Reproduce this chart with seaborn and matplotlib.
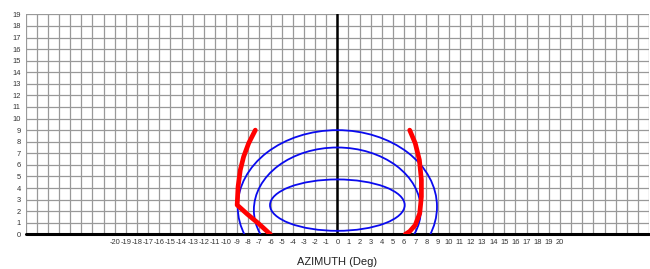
import matplotlib
matplotlib.use("Agg")
import matplotlib.pyplot as plt
from matplotlib.patches import Ellipse
import seaborn as sns
import pandas as pd

# axis ranges
x_min, x_max = -28, 28
y_min, y_max = 0, 19
x_labels_shown = list(range(-20, 21))

# blue contours (center x, center y, half width, half height)
ell_cx = [0.0, 0.0, 0.0]
ell_cy = [2.52, 2.1, 2.38]
ell_hw = [6.05, 7.5, 8.95]
ell_hh = [2.22, 5.4, 6.62]

# red boundary curves
left_x = [-7.37, -7.97, -8.42, -8.72, -8.92, -9.0, -8.1, -7.1, -6.02]
left_y = [9.0, 7.86, 6.7, 5.55, 4.1, 2.53, 1.75, 0.95, 0.0]
right_x = [6.5, 7.0, 7.37, 7.55, 7.55, 7.4, 7.0, 6.5, 6.1]
right_y = [9.0, 7.86, 6.42, 4.7, 3.25, 1.81, 0.8, 0.25, 0.0]

sns.set_style("white")
plt.rcParams['font.family'] = ['Liberation Sans', 'DejaVu Sans']

fig = plt.figure(figsize=(6.5, 2.69), dpi=100)
ax = fig.add_axes([0.0395, 0.129, 0.959, 0.8175])

ax.set_xlim(x_min, x_max)
ax.set_ylim(y_min, y_max)
xt = list(range(x_min, x_max + 1))
ax.set_xticks(xt)
ax.set_xticklabels([str(v) if v in x_labels_shown else '' for v in xt])
ax.set_yticks(range(y_min, y_max + 1))
ax.tick_params(axis='both', length=0, labelsize=5.4, colors='#333333', pad=3.5)
ax.grid(True, color='#999999', linewidth=0.9)
ax.set_axisbelow(True)
for s in ax.spines.values():
    s.set_visible(False)

# zero axes
ax.axvline(0, color='black', linewidth=1.8, zorder=2)
ax.axhline(0, color='black', linewidth=2.2, zorder=2, clip_on=False)

for cx, cy, hw, hh in zip(ell_cx, ell_cy, ell_hw, ell_hh):
    ax.add_patch(Ellipse((cx, cy), 2 * hw, 2 * hh, fill=False,
                         edgecolor='#0a0aee', linewidth=1.3, zorder=3))

df_l = pd.DataFrame({'x': left_x, 'y': left_y})
df_r = pd.DataFrame({'x': right_x, 'y': right_y})
for d in (df_l, df_r):
    sns.lineplot(data=d, x='x', y='y', sort=False, estimator=None,
                 color='red', linewidth=3.4, ax=ax, zorder=4)

ax.set_xlabel('AZIMUTH (Deg)', fontsize=8, color='#222222')
ax.xaxis.set_label_coords(0.5, -0.126)
ax.xaxis.label.set_va('center')
ax.set_ylabel('')

fig.savefig('out.png', dpi=100)
